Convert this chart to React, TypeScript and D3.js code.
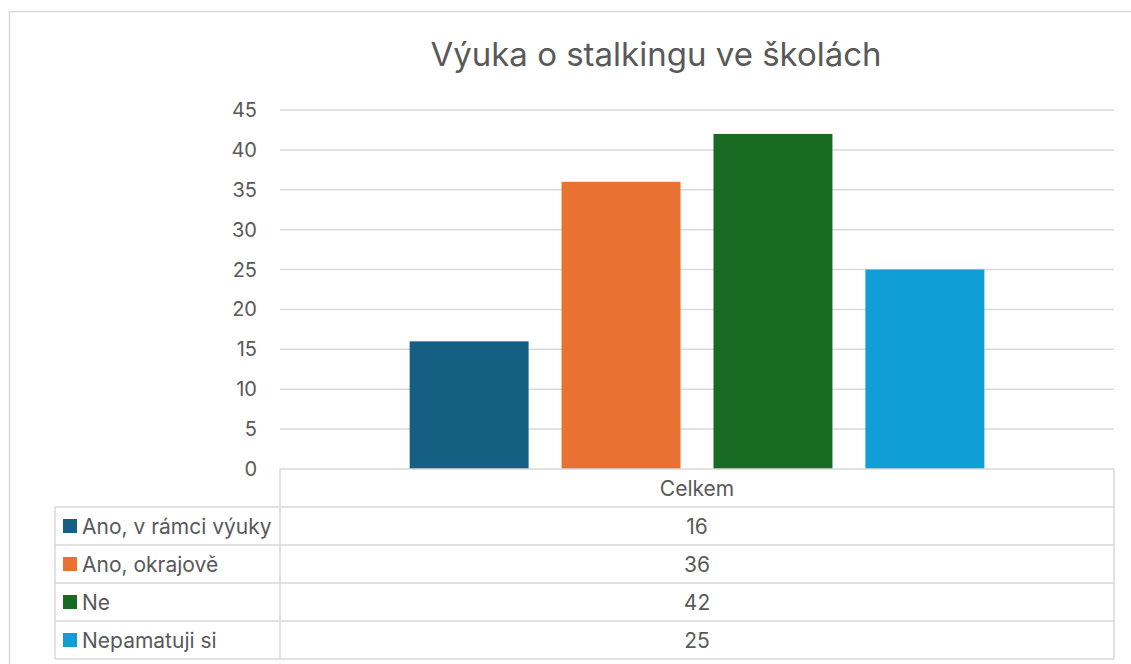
import React from "react";
import * as d3 from "d3";

// chart values
const categories = ["Celkem"];
const seriesNames = ["Ano, v rámci výuky", "Ano, okrajově", "Ne", "Nepamatuji si"];
const seriesValues = [16, 36, 42, 25];
const seriesColors = ["#156082", "#E97132", "#196B24", "#0F9ED5"];
const yTicks = [0, 5, 10, 15, 20, 25, 30, 35, 40, 45];
const title = "Výuka o stalkingu ve školách";

const W = 1131, H = 664;
const FONT = "Inter, 'Open Sans', 'Liberation Sans', sans-serif";
const TEXT = "#595959";
const GRID = "#d9d9d9";

const App = () => {
  const plotL = 280, plotR = 1114;
  const y = d3.scaleLinear().domain([0, 45]).range([469, 110]);
  const x0 = d3.scaleBand().domain(categories).range([plotL, plotR]).paddingInner(0).paddingOuter(0.2256);
  const x1 = d3.scaleBand().domain(seriesNames).range([0, x0.bandwidth()]).paddingInner(0.217).paddingOuter(0);

  const tableTop = y(0);
  const rowH = 38;
  const tableL = 55;
  const rows = seriesNames.map((_, i) => tableTop + rowH * (i + 1));
  const tableBottom = tableTop + rowH * (seriesNames.length + 1);

  return (
    <div style={{ position: "fixed", left: 0, top: 0 }}>
      <svg width={W} height={H} style={{ display: "block", background: "#fff" }}>
        <rect x={9.5} y={11.5} width={W + 20} height={H + 20} fill="#fff" stroke={GRID} strokeWidth={1.5} />
        <text x={656} y={66} textAnchor="middle" fontFamily={FONT} fontSize={33} fill={TEXT}>{title}</text>

        {yTicks.map(t => (
          <g key={t}>
            {t > 0 && <line x1={plotL} x2={plotR} y1={y(t)} y2={y(t)} stroke={GRID} strokeWidth={1.5} />}
            <text x={257} y={y(t) + 7} textAnchor="end" fontFamily={FONT} fontSize={20} fill={TEXT}>{t}</text>
          </g>
        ))}

        {categories.map(c => (
          <g key={c} transform={`translate(${x0(c)},0)`}>
            {seriesNames.map((s, i) => (
              <rect key={s} x={x1(s)} y={y(seriesValues[i])} width={x1.bandwidth()} height={y(0) - y(seriesValues[i])} fill={seriesColors[i]} />
            ))}
          </g>
        ))}

        {/* data table */}
        <g stroke={GRID} strokeWidth={1.5} fill="none">
          <line x1={plotL} x2={plotR} y1={tableTop} y2={tableTop} />
          {rows.map((ry, i) => <line key={i} x1={tableL} x2={plotR} y1={ry} y2={ry} />)}
          <line x1={tableL} x2={plotR} y1={tableBottom} y2={tableBottom} />
          <line x1={plotL} x2={plotL} y1={tableTop} y2={tableBottom} />
          <line x1={plotR} x2={plotR} y1={tableTop} y2={tableBottom} />
          <line x1={tableL} x2={tableL} y1={rows[0]} y2={tableBottom} />
        </g>
        {categories.map(c => (
          <text key={c} x={x0(c)! + x0.bandwidth() / 2} y={tableTop + rowH / 2 + 7.5} textAnchor="middle" fontFamily={FONT} fontSize={21} fill={TEXT}>{c}</text>
        ))}
        {seriesNames.map((s, i) => {
          const cy = rows[i] + rowH / 2;
          return (
            <g key={s}>
              <rect x={63} y={cy - 7} width={14} height={14} fill={seriesColors[i]} />
              <text x={82} y={cy + 7.5} fontFamily={FONT} fontSize={21} fill={TEXT}>{s}</text>
              <text x={(plotL + plotR) / 2} y={cy + 7.5} textAnchor="middle" fontFamily={FONT} fontSize={21} fill={TEXT}>{seriesValues[i]}</text>
            </g>
          );
        })}
      </svg>
    </div>
  );
};

export default App;
